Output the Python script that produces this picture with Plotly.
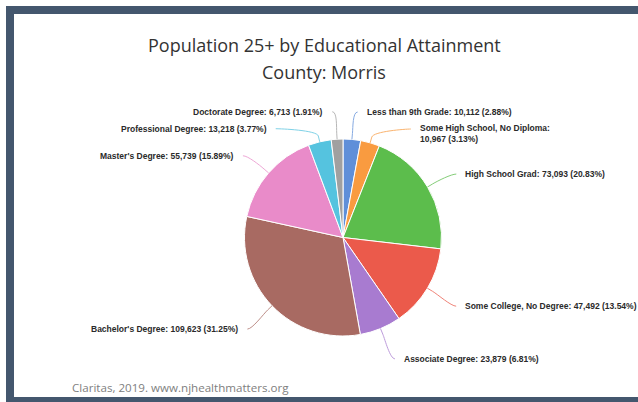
import math
import plotly.graph_objects as go

# Population 25+ by educational attainment, Morris County
categories = [
    "Less than 9th Grade",
    "Some High School, No Diploma",
    "High School Grad",
    "Some College, No Degree",
    "Associate Degree",
    "Bachelor's Degree",
    "Master's Degree",
    "Professional Degree",
    "Doctorate Degree",
]
counts = [10112, 10967, 73093, 47492, 23879, 109623, 55739, 13218, 6713]
slice_colors = [
    "#5f8fd9", "#f99b40", "#5cbd4c", "#eb5a4b", "#a87bd0",
    "#a86a62", "#e98bc9", "#55c3df", "#a0a0a0",
]
# labels that break onto a second line after the colon
wrapped = {"Some High School, No Diploma"}

title_text = "Population 25+ by Educational Attainment"
subtitle_text = "County: Morris"
credit_text = "Claritas, 2019. www.njhealthmatters.org"

# ---- page geometry (pixels) ----
W, H = 638, 402
CX, CY, R = 343.0, 237.5, 98.5      # pie centre and radius
LABEL_DIST = 30.0                    # label distance beyond the rim
BREAK_OFF = 6.0                      # connector break offset beyond the rim
TEXT_DROP = 2.5                      # label text sits slightly below its natural spot
LABEL_FONT = 8.5
LINE_GAP = 17.0                      # minimum spacing between stacked labels
FRAME = "#44576e"


def fx(x):
    return x / W


def fy(y):
    return 1 - y / H


total = sum(counts)
fracs = [c / total for c in counts]

fig = go.Figure(
    go.Pie(
        labels=categories,
        values=counts,
        sort=False,
        direction="clockwise",
        rotation=0,
        textinfo="none",
        hoverinfo="label+value+percent",
        marker=dict(colors=slice_colors, line=dict(color="#ffffff", width=1)),
        domain=dict(x=[fx(CX - R), fx(CX + R)], y=[fy(CY + R), fy(CY - R)]),
        showlegend=False,
    )
)

# ---- data labels with connectors (positions derived from slice angles) ----
items = []
cum = 0.0
for name, val, f, col in zip(categories, counts, fracs, slice_colors):
    mid = (cum + f / 2) * 2 * math.pi
    cum += f
    pct = f"{f * 100:.2f}%"
    if name in wrapped:
        text = f"{name}:<br>{val:,} ({pct})"
    else:
        text = f"{name}: {val:,} ({pct})"
    side = 1 if math.sin(mid) >= 0 else -1
    ny = CY - (R + LABEL_DIST) * math.cos(mid)
    items.append(dict(name=name, text=text, ang=mid, side=side, y=ny, col=col,
                      lines=text.count("<br>") + 1))

# push overlapping labels downwards on each side
for side in (1, -1):
    group = sorted([it for it in items if it["side"] == side], key=lambda it: it["y"])
    for a, b in zip(group, group[1:]):
        need = a["y"] + LINE_GAP * a["lines"]
        if b["y"] < need:
            b["y"] = need

shapes = []
annotations = []
for it in items:
    s, ang, y0 = it["side"], it["ang"], it["y"]
    dy = y0 - CY
    rr = R + LABEL_DIST
    gx = CX + s * math.sqrt(max(rr * rr - dy * dy, 0.0))
    ly = y0 + TEXT_DROP
    ax, ay = gx + 3 * s, ly
    ex, ey = CX + R * math.sin(ang), CY - R * math.cos(ang)
    bx, by = CX + (R + BREAK_OFF) * math.sin(ang), CY - (R + BREAK_OFF) * math.cos(ang)
    c1x, c1y = ax - 5 * s, ay
    c2x, c2y = 2 * bx - ex, 2 * by - ey
    path = (f"M {fx(ax)},{fy(ay)} C {fx(c1x)},{fy(c1y)} {fx(c2x)},{fy(c2y)} "
            f"{fx(bx)},{fy(by)} L {fx(ex)},{fy(ey)}")
    shapes.append(dict(type="path", xref="paper", yref="paper", path=path,
                       line=dict(color=it["col"], width=1), opacity=0.75))
    tx = gx + 12 * s
    lh = 12.0
    if it["lines"] > 1:
        ty, yanc = ly - lh / 2, "top"
    else:
        ty, yanc = ly, "middle"
    annotations.append(dict(
        x=fx(tx), y=fy(ty), xref="paper", yref="paper",
        text=f"<b>{it['text']}</b>", showarrow=False,
        xanchor="left" if s > 0 else "right", yanchor=yanc, align="left",
        borderpad=0, borderwidth=0,
        font=dict(family="Liberation Sans, Arial, sans-serif", size=LABEL_FONT,
                  color="#2a2a2a"),
    ))

# ---- titles and credit line ----
annotations += [
    dict(x=fx(324), y=fy(45), xref="paper", yref="paper", text=title_text,
         showarrow=False, xanchor="center", yanchor="middle",
         font=dict(family="Open Sans, sans-serif", size=18, color="#333333")),
    dict(x=fx(324), y=fy(72), xref="paper", yref="paper", text=subtitle_text,
         showarrow=False, xanchor="center", yanchor="middle",
         font=dict(family="Open Sans, sans-serif", size=18, color="#333333")),
    dict(x=fx(70), y=fy(387), xref="paper", yref="paper", text=credit_text,
         showarrow=False, xanchor="left", yanchor="middle",
         font=dict(family="Open Sans, sans-serif", size=11.6, color="#808080")),
]

# ---- dark frame around the panel ----
for x0, y0, x1, y1 in [(6, 6, W, 14), (6, 6, 14, H), (6, 397, W, H)]:
    shapes.append(dict(type="rect", xref="paper", yref="paper",
                       x0=fx(x0), x1=fx(x1), y0=fy(y1), y1=fy(y0),
                       fillcolor=FRAME, line=dict(width=0), layer="above"))

fig.update_layout(
    width=W, height=H,
    margin=dict(l=0, r=0, t=0, b=0),
    paper_bgcolor="#ffffff",
    plot_bgcolor="#ffffff",
    shapes=shapes,
    annotations=annotations,
)

fig.write_html("out.html")
